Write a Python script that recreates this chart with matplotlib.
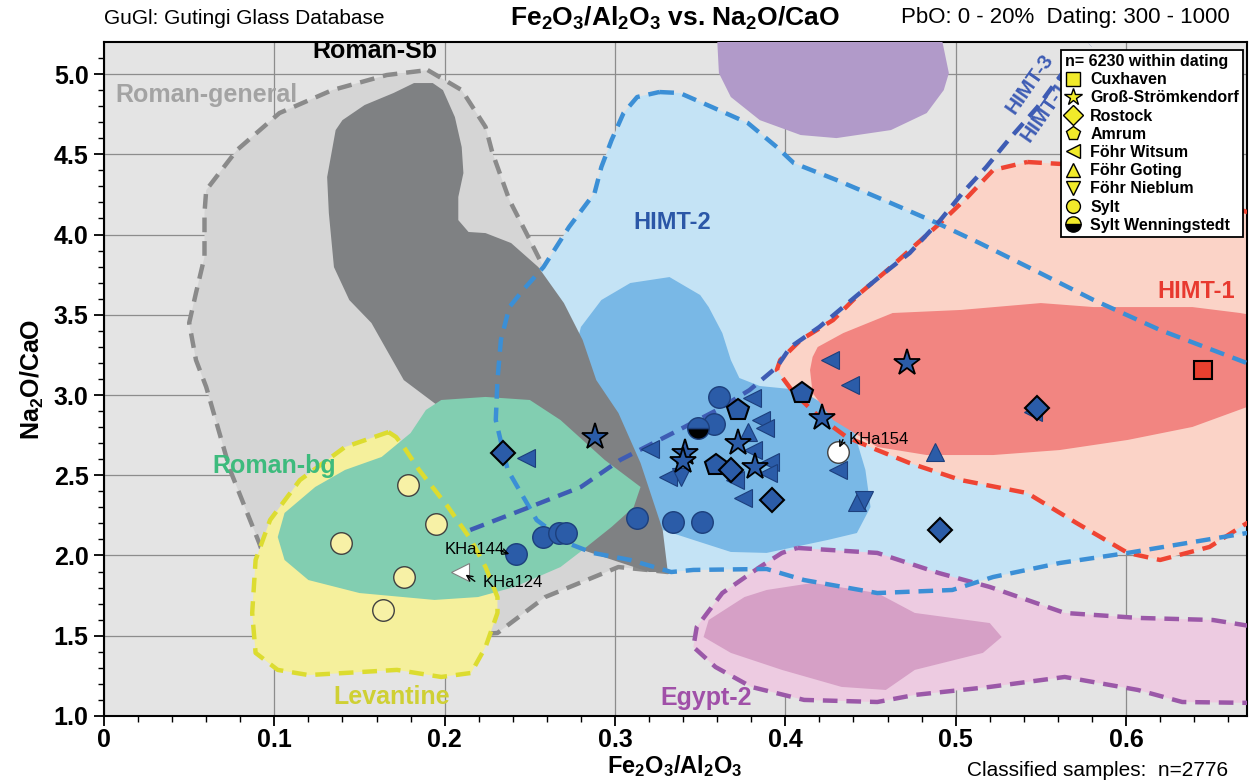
import matplotlib
matplotlib.use('Agg')
import matplotlib.pyplot as plt
from matplotlib.lines import Line2D

plt.rcParams['font.family'] = ['Liberation Sans Narrow', 'Liberation Sans', 'DejaVu Sans']
plt.rcParams['mathtext.default'] = 'regular'

# ---- region outlines (Fe2O3/Al2O3, Na2O/CaO) ----
roman_general = [(0.190, 5.025), (0.210, 4.90), (0.224, 4.67), (0.228, 4.51), (0.238, 4.215),
                 (0.250, 3.966), (0.258, 3.797), (0.291, 3.156), (0.321, 2.533), (0.331, 1.897),
                 (0.302, 1.928), (0.259, 1.741), (0.231, 1.517), (0.174, 1.474), (0.103, 1.723),
                 (0.091, 2.081), (0.074, 2.533), (0.060, 3.05), (0.054, 3.218), (0.050, 3.449),
                 (0.054, 3.636), (0.059, 3.86), (0.059, 4.134), (0.060, 4.277), (0.078, 4.526),
                 (0.103, 4.757), (0.134, 4.90), (0.166, 4.994)]
roman_sb = [(0.182, 4.944), (0.193, 4.944), (0.199, 4.90), (0.206, 4.732), (0.210, 4.545),
            (0.211, 4.383), (0.208, 4.234), (0.208, 4.090), (0.214, 4.016), (0.224, 4.009),
            (0.239, 3.947), (0.255, 3.797), (0.270, 3.573), (0.281, 3.343), (0.289, 3.093),
            (0.302, 2.888), (0.315, 2.576), (0.328, 2.159), (0.331, 1.897), (0.320, 1.897),
            (0.302, 1.96), (0.281, 2.034), (0.256, 2.346), (0.215, 2.782), (0.176, 3.093),
            (0.166, 3.280), (0.157, 3.449), (0.144, 3.592), (0.135, 3.797), (0.132, 4.134),
            (0.131, 4.358), (0.136, 4.651), (0.140, 4.713), (0.153, 4.807), (0.170, 4.882)]
himt2 = [(0.326, 4.888), (0.338, 4.882), (0.357, 4.794), (0.378, 4.695), (0.395, 4.545),
         (0.405, 4.445), (0.430, 4.340), (0.462, 4.196), (0.489, 4.072), (0.514, 3.947),
         (0.546, 3.779), (0.581, 3.592), (0.620, 3.405), (0.671, 3.199), (0.690, 3.125),
         (0.690, 2.159), (0.671, 2.140), (0.601, 2.016), (0.561, 1.953), (0.522, 1.866),
         (0.498, 1.785), (0.454, 1.766), (0.411, 1.847), (0.389, 1.916), (0.346, 1.910),
         (0.333, 1.897), (0.309, 1.972), (0.287, 2.016), (0.272, 2.078), (0.254, 2.221),
         (0.237, 2.533), (0.230, 2.844), (0.231, 3.093), (0.233, 3.343), (0.238, 3.548),
         (0.246, 3.654), (0.258, 3.797), (0.273, 4.047), (0.288, 4.259), (0.292, 4.421),
         (0.298, 4.589), (0.305, 4.757), (0.313, 4.857)]
himt2_core = [(0.332, 3.735), (0.350, 3.623), (0.355, 3.548), (0.363, 3.386), (0.368, 3.218),
              (0.373, 3.106), (0.385, 3.056), (0.409, 3.031), (0.428, 2.907), (0.440, 2.782),
              (0.447, 2.533), (0.450, 2.302), (0.442, 2.140), (0.425, 2.097), (0.389, 2.016),
              (0.368, 2.022), (0.346, 2.097), (0.328, 2.159), (0.315, 2.470), (0.291, 2.969),
              (0.275, 3.218), (0.280, 3.424), (0.292, 3.592), (0.309, 3.698)]
himt1 = [(0.542, 4.452), (0.573, 4.433), (0.614, 4.340), (0.644, 4.246), (0.671, 4.140),
         (0.690, 4.121), (0.690, 2.221), (0.671, 2.202), (0.649, 2.053), (0.620, 1.972),
         (0.601, 2.016), (0.571, 2.202), (0.542, 2.389), (0.503, 2.470), (0.473, 2.576),
         (0.454, 2.657), (0.436, 2.738), (0.420, 2.863), (0.405, 3.012), (0.395, 3.156),
         (0.397, 3.218), (0.409, 3.343), (0.428, 3.467), (0.444, 3.636), (0.460, 3.779),
         (0.475, 3.922), (0.491, 4.072), (0.507, 4.234), (0.522, 4.402)]
himt1_core = [(0.4145, 3.156), (0.416, 3.237), (0.419, 3.299), (0.434, 3.386), (0.463, 3.511),
              (0.503, 3.530), (0.550, 3.573), (0.581, 3.548), (0.639, 3.548), (0.667, 3.511),
              (0.690, 3.467), (0.690, 2.969), (0.671, 2.925), (0.639, 2.801), (0.601, 2.720),
              (0.561, 2.657), (0.522, 2.626), (0.483, 2.626), (0.454, 2.676), (0.428, 2.844),
              (0.416, 3.012)]
egypt2 = [(0.407, 2.047), (0.454, 2.016), (0.490, 1.891), (0.520, 1.804), (0.542, 1.723),
          (0.564, 1.642), (0.607, 1.611), (0.651, 1.598), (0.676, 1.555), (0.690, 1.536),
          (0.690, 1.081), (0.676, 1.081), (0.633, 1.087), (0.607, 1.162), (0.564, 1.243),
          (0.520, 1.181), (0.476, 1.131), (0.454, 1.087), (0.411, 1.100), (0.380, 1.181),
          (0.359, 1.305), (0.346, 1.430), (0.348, 1.555), (0.363, 1.766), (0.385, 1.928),
          (0.398, 2.016)]
egypt2_core = [(0.416, 1.829), (0.454, 1.766), (0.476, 1.642), (0.520, 1.579), (0.527, 1.492),
               (0.516, 1.393), (0.476, 1.287), (0.459, 1.162), (0.433, 1.181), (0.398, 1.287),
               (0.368, 1.393), (0.352, 1.492), (0.355, 1.598), (0.376, 1.741), (0.389, 1.785)]
purple_top = [(0.360, 5.336), (0.360, 5.212), (0.361, 5.006), (0.368, 4.857), (0.385, 4.713),
              (0.409, 4.620), (0.430, 4.601), (0.462, 4.651), (0.483, 4.757), (0.493, 4.900),
              (0.496, 5.006), (0.492, 5.212), (0.492, 5.336)]
roman_bg = [(0.198, 2.969), (0.224, 2.988), (0.250, 2.969), (0.268, 2.844), (0.294, 2.595),
            (0.315, 2.427), (0.311, 2.302), (0.298, 2.178), (0.281, 2.034), (0.268, 1.928),
            (0.241, 1.804), (0.2196, 1.741), (0.194, 1.723), (0.150, 1.766), (0.120, 1.847),
            (0.106, 1.972), (0.102, 2.115), (0.106, 2.265), (0.124, 2.427), (0.1415, 2.533),
            (0.163, 2.614), (0.180, 2.763), (0.189, 2.907)]
levantine = [(0.167, 2.769), (0.1415, 2.676), (0.115, 2.470), (0.0975, 2.221), (0.089, 1.972),
             (0.087, 1.642), (0.089, 1.393), (0.102, 1.287), (0.120, 1.255), (0.1415, 1.268),
             (0.172, 1.287), (0.198, 1.243), (0.2155, 1.268), (0.224, 1.430), (0.231, 1.642),
             (0.231, 1.741), (0.224, 1.928), (0.2155, 2.097), (0.202, 2.302), (0.185, 2.533),
             (0.176, 2.676), (0.1715, 2.738)]
himt3_line = [(0.215, 2.159), (0.250, 2.302), (0.280, 2.427), (0.303, 2.595), (0.334, 2.763),
              (0.360, 2.907), (0.379, 3.031), (0.395, 3.174), (0.403, 3.299), (0.420, 3.424),
              (0.441, 3.611), (0.458, 3.760), (0.473, 3.885), (0.491, 4.090), (0.504, 4.259),
              (0.518, 4.421), (0.531, 4.589), (0.548, 4.794), (0.564, 5.025), (0.579, 5.18)]

# ---- samples ----
circ_x = [0.258, 0.267, 0.271, 0.242, 0.313, 0.334, 0.351, 0.361, 0.358]
circ_y = [2.115, 2.140, 2.140, 2.009, 2.234, 2.209, 2.209, 2.988, 2.819]
sylt_x = [0.1785, 0.195, 0.139, 0.176, 0.164]
sylt_y = [2.439, 2.196, 2.078, 1.866, 1.660]
wenn_x, wenn_y = [0.349], [2.794]
kha154_x, kha154_y = [0.431], [2.645]
kha124_x, kha124_y = [0.209], [1.897]
diam_x = [0.234, 0.392, 0.491, 0.548, 0.368]
diam_y = [2.639, 2.346, 2.159, 2.919, 2.533]
star_x = [0.288, 0.4715, 0.4215, 0.341, 0.340, 0.372, 0.382]
star_y = [2.738, 3.199, 2.857, 2.639, 2.589, 2.701, 2.551]
pent_x = [0.372, 0.359, 0.410]
pent_y = [2.907, 2.564, 3.012]
ltri_x = [0.3206, 0.3805, 0.386, 0.388, 0.391, 0.390, 0.375, 0.3705, 0.331, 0.431, 0.426,
          0.438, 0.5455, 0.248, 0.381]
ltri_y = [2.664, 2.981, 2.844, 2.794, 2.583, 2.514, 2.358, 2.470, 2.489, 2.533, 3.218,
          3.062, 2.894, 2.607, 2.657]
utri_x = [0.488, 0.442, 0.378]
utri_y = [2.645, 2.333, 2.769]
dtri_x = [0.339, 0.446]
dtri_y = [2.489, 2.346]
sq_x, sq_y = [0.645], [3.156]

sites = ['Cuxhaven', 'Groß-Strömkendorf', 'Rostock', 'Amrum', 'Föhr Witsum',
         'Föhr Goting', 'Föhr Nieblum', 'Sylt', 'Sylt Wenningstedt']
site_markers = ['s', '*', 'D', 'p', '<', '^', 'v', 'o', 'o']

fig = plt.figure(figsize=(12.56, 7.8), dpi=100)
ax = fig.add_axes([0.0828, 0.0821, 0.910, 0.8641])
ax.set_facecolor('#e4e4e4')
ax.set_xlim(0, 0.671)
ax.set_ylim(1.0, 5.2)

dash = (0, (3.3, 2.0))


def fill(poly, color, z):
    xs = [p[0] for p in poly]
    ys = [p[1] for p in poly]
    ax.fill(xs, ys, color=color, lw=0, zorder=z)


def outline(poly, color, z, closed=True):
    xs = [p[0] for p in poly]
    ys = [p[1] for p in poly]
    if closed:
        xs = xs + [xs[0]]
        ys = ys + [ys[0]]
    ax.plot(xs, ys, color=color, lw=3.2, ls=dash, zorder=z, dash_capstyle='butt')


fill(roman_general, '#d5d5d5', 1)
outline(roman_general, '#8a8a8a', 1.1)
fill(himt2, '#c4e3f5', 2)
fill(himt1, '#fbd3c7', 2.1)
fill(egypt2, '#edcbe1', 2.2)
fill(himt2_core, '#79b8e6', 2.3)
fill(himt1_core, '#f28581', 2.4)
fill(egypt2_core, '#d6a0c6', 2.5)
fill(roman_sb, '#7f8183', 2.6)
fill(purple_top, '#b19ac9', 2.7)
fill(levantine, '#f5f09c', 2.8)
fill(roman_bg, '#82ceb1', 2.9)
outline(levantine, '#dcdc30', 3.0)
outline(egypt2, '#9b58a8', 3.1)
outline(himt1, '#ef4433', 3.2)
outline(himt2, '#3b8fd6', 3.3)
outline(himt3_line, '#3e5cb4', 3.4, closed=False)

ax.grid(True, color='#8c8c8c', lw=0.9)
ax.set_axisbelow(True)

# region labels
ax.text(0.0065, 4.869, 'Roman-general', color='#a3a3a3', fontsize=18, fontweight='bold',
        family=['Liberation Sans', 'DejaVu Sans'], ha='left', va='center', zorder=5)
ax.text(0.159, 5.10, 'Roman-Sb', color='black', fontsize=18, fontweight='bold',
        ha='center', va='baseline', zorder=5, clip_on=True)
ax.text(0.3335, 4.072, 'HIMT-2', color='#2b57a7', fontsize=17, fontweight='bold',
        family=['Liberation Sans', 'DejaVu Sans'], ha='center', va='center', zorder=5)
ax.text(0.641, 3.648, 'HIMT-1', color='#e8392f', fontsize=17, fontweight='bold',
        family=['Liberation Sans', 'DejaVu Sans'], ha='center', va='center', zorder=5)
ax.text(0.0998, 2.558, 'Roman-bg', color='#3dbb7d', fontsize=18, fontweight='bold',
        ha='center', va='center', zorder=5)
ax.text(0.169, 1.118, 'Levantine', color='#cfd034', fontsize=18, fontweight='bold',
        ha='center', va='center', zorder=5)
ax.text(0.3535, 1.112, 'Egypt-2', color='#a050a8', fontsize=18, fontweight='bold',
        ha='center', va='center', zorder=5)
ax.text(0.532, 4.763, 'HIMT-3', color='#3e5cb4', fontsize=15, fontweight='bold',
        family=['Liberation Sans', 'DejaVu Sans'], rotation=55, rotation_mode='anchor',
        ha='left', va='center', zorder=5, clip_on=True)
ax.text(0.541, 4.589, 'HIMT-1b', color='#3e5cb4', fontsize=15, fontweight='bold',
        family=['Liberation Sans', 'DejaVu Sans'], rotation=55, rotation_mode='anchor',
        ha='left', va='center', zorder=5, clip_on=True)

# samples
blue = '#2b5ca8'
ax.plot(circ_x, circ_y, 'o', ms=15.5, mfc=blue, mec='#1c3f7c', mew=1, zorder=10)
ax.plot(sylt_x, sylt_y, 'o', ms=15.5, mfc='#f7f1a6', mec='#404040', mew=1, zorder=10)
ax.plot(wenn_x, wenn_y, 'o', ms=15.5, fillstyle='bottom', mfc='black', mfcalt=blue,
        mec='#1c3f7c', mew=1, zorder=11)
ax.plot(kha154_x, kha154_y, 'o', ms=15.5, mfc='white', mec='#404040', mew=1, zorder=10)
ax.plot(kha124_x, kha124_y, '<', ms=13, mfc='white', mec='#808080', mew=0.8, zorder=10)
ax.plot(ltri_x, ltri_y, '<', ms=13, mfc=blue, mec='#1c3f7c', mew=0.8, zorder=10)
ax.plot(utri_x, utri_y, '^', ms=13, mfc=blue, mec='#1c3f7c', mew=0.8, zorder=10)
ax.plot(dtri_x, dtri_y, 'v', ms=13, mfc=blue, mec='#1c3f7c', mew=0.8, zorder=10)
ax.plot(pent_x, pent_y, 'p', ms=16, mfc=blue, mec='black', mew=1.5, zorder=10)
ax.plot(diam_x, diam_y, 'D', ms=12, mfc=blue, mec='black', mew=1.5, zorder=10)
ax.plot(star_x, star_y, '*', ms=20, mfc=blue, mec='black', mew=1.3, zorder=11)
ax.plot(sq_x, sq_y, 's', ms=13, mfc='#e8402f', mec='black', mew=1.5, zorder=10)

# sample labels
ax.text(0.2355, 2.04, 'KHa144', fontsize=12, family=['Liberation Sans', 'DejaVu Sans'],
        ha='right', va='center', zorder=12)
ax.annotate('', xy=(0.2395, 2.003), xytext=(0.2314, 2.034),
            arrowprops=dict(arrowstyle='->', lw=1, color='black'), zorder=12)
ax.text(0.2225, 1.829, 'KHa124', fontsize=12, family=['Liberation Sans', 'DejaVu Sans'],
        ha='left', va='center', zorder=12)
ax.annotate('', xy=(0.211, 1.891), xytext=(0.219, 1.829),
            arrowprops=dict(arrowstyle='->', lw=1, color='black'), zorder=12)
ax.text(0.437, 2.72, 'KHa154', fontsize=12, family=['Liberation Sans', 'DejaVu Sans'],
        ha='left', va='center', zorder=12)
ax.annotate('', xy=(0.431, 2.657), xytext=(0.4345, 2.738),
            arrowprops=dict(arrowstyle='->', lw=1, color='black'), zorder=12)

# axes
xt = [0, 0.1, 0.2, 0.3, 0.4, 0.5, 0.6]
yt = [1.0, 1.5, 2.0, 2.5, 3.0, 3.5, 4.0, 4.5, 5.0]
ax.set_xticks(xt)
ax.set_xticklabels(['0', '0.1', '0.2', '0.3', '0.4', '0.5', '0.6'], fontsize=18, fontweight='bold')
ax.set_yticks(yt)
ax.set_yticklabels(['%.1f' % v for v in yt], fontsize=18, fontweight='bold')
ax.set_xticks([i * 0.02 for i in range(34)], minor=True)
ax.set_yticks([1 + i * 0.1 for i in range(42)], minor=True)
ax.tick_params(which='major', direction='out', length=7, width=1.3, pad=4)
ax.tick_params(axis='x', which='major', pad=2)
ax.tick_params(which='minor', direction='out', length=4, width=1)
for s in ax.spines.values():
    s.set_linewidth(1.5)
ax.set_ylabel(r'Na$_2$O/CaO', fontsize=18, fontweight='bold', labelpad=6)
fig.text(675 / 1256, 1 - 779 / 780, r'Fe$_2$O$_3$/Al$_2$O$_3$', fontsize=17,
         fontweight='bold', ha='center', va='bottom')

# legend
yellow = '#f1ea2a'
handles = []
for lab, m in zip(sites, site_markers):
    if lab == 'Sylt Wenningstedt':
        h = Line2D([], [], marker='o', ls='none', ms=11, fillstyle='bottom', mfc='black',
                   mfcalt=yellow, mec='black', mew=1)
    else:
        h = Line2D([], [], marker=m, ls='none', ms=13 if m == '*' else 10, mfc=yellow,
                   mec='black', mew=1)
    handles.append(h)
leg = ax.legend(handles, sites, loc='upper right', bbox_to_anchor=(0.9965, 0.988),
                title='n= 6230 within dating', alignment='left',
                prop={'family': ['Liberation Sans', 'DejaVu Sans'], 'weight': 'bold', 'size': 11.5},
                title_fontproperties={'family': ['Liberation Sans', 'DejaVu Sans'],
                                      'weight': 'bold', 'size': 11.5},
                fancybox=False, framealpha=1, edgecolor='black', borderpad=0.25,
                labelspacing=0.2, handlelength=1.0, handletextpad=0.6, borderaxespad=0)
leg.get_frame().set_linewidth(1.3)
leg.set_zorder(30)

# header / footer text
fig.text(104 / 1256, 1 - 18 / 780, 'GuGl: Gutingi Glass Database', fontsize=15,
         ha='left', va='center')
fig.text(675 / 1256, 1 - 18 / 780, r'Fe$_2$O$_3$/Al$_2$O$_3$ vs. Na$_2$O/CaO', fontsize=19,
         fontweight='bold', ha='center', va='center')
fig.text(1230 / 1256, 1 - 18 / 780, 'PbO: 0 - 20%  Dating: 300 - 1000', fontsize=16,
         ha='right', va='center')
fig.text(1228 / 1256, 1 - 770 / 780, 'Classified samples:  n=2776', fontsize=15,
         ha='right', va='center')

fig.savefig('out.png', dpi=100)
